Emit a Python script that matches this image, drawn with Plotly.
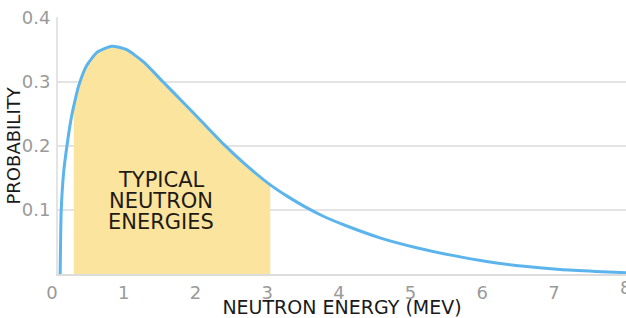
import plotly.graph_objects as go

# Neutron energy (MeV) and probability
energy = [0.03, 0.045, 0.08, 0.125, 0.18, 0.22, 0.29, 0.4, 0.55, 0.75, 0.95, 1.2, 1.46,
          1.75, 2.0, 2.33, 2.6, 2.96, 3.2, 3.44, 3.7, 4.0, 4.5, 5.0, 5.5, 6.0, 6.5,
          7.0, 7.5, 7.92]
probability = [0.0, 0.1, 0.16, 0.2, 0.24, 0.262, 0.294, 0.325, 0.346, 0.355, 0.35, 0.33,
               0.3, 0.267, 0.238, 0.2, 0.172, 0.139, 0.121, 0.105, 0.09, 0.076, 0.056,
               0.041, 0.029, 0.019, 0.012, 0.007, 0.004, 0.002]

typical_range = (0.22, 2.96)
x_ticks = [0, 1, 2, 3, 4, 5, 6, 7]
edge_tick = "8"
y_ticks = [0.1, 0.2, 0.3, 0.4]
y_tick_labels = ["0.1", "0.2", "0.3", "0.4"]
label_lines = ["TYPICAL", "NEUTRON", "ENERGIES"]
label_y = [0.147, 0.114, 0.081]

fill_x = [e for e in energy if typical_range[0] <= e <= typical_range[1]]
fill_y = [p for e, p in zip(energy, probability) if typical_range[0] <= e <= typical_range[1]]

fig = go.Figure()
fig.add_trace(go.Scatter(x=fill_x, y=fill_y, mode="lines",
                         line=dict(width=0, color="#FBE49E", shape="spline", smoothing=0.6),
                         fill="tozeroy", fillcolor="#FBE49E", hoverinfo="skip"))
fig.add_trace(go.Scatter(x=energy, y=probability, mode="lines",
                         line=dict(color="#5BB5EC", width=3, shape="spline", smoothing=0.6)))

for txt, yy in zip(label_lines, label_y):
    fig.add_annotation(x=1.44, y=yy, text=txt, showarrow=False,
                       font=dict(family="DejaVu Sans", size=21, color="#1f1a14"))

fig.add_annotation(xref="paper", yref="paper", x=0, y=0.5, xshift=-45, text="PROBABILITY",
                   textangle=-90, showarrow=False, xanchor="center", yanchor="middle",
                   font=dict(family="DejaVu Sans", size=18, color="#1a1a1a"))

# tick label for 8 MeV sits at the window's right edge, partly cut off as in the reference
fig.add_annotation(xref="paper", yref="paper", x=1, y=0, xshift=-1, yshift=-1,
                   text=edge_tick, showarrow=False, xanchor="center", yanchor="top",
                   font=dict(family="DejaVu Sans", size=18, color="#9a9a9a"))

fig.update_layout(
    width=626, height=318,
    margin=dict(l=58, r=0, t=17, b=44),
    paper_bgcolor="white", plot_bgcolor="white",
    showlegend=False,
    font=dict(family="DejaVu Sans"),
    xaxis=dict(range=[0, 7.92], tickvals=x_ticks, ticktext=[str(t) for t in x_ticks],
               showgrid=False, zeroline=False, showline=True, linecolor="#dcdcdc", linewidth=2,
               tickfont=dict(size=18, color="#9a9a9a"), ticks="", ticklabelshift=-6,
               ticklabelstandoff=1, automargin=False, ticklabeloverflow="allow",
               title=dict(text="NEUTRON ENERGY (MEV)", font=dict(size=19, color="#1a1a1a"), standoff=9)),
    yaxis=dict(range=[0, 0.4006], tickvals=y_ticks, ticktext=y_tick_labels,
               showgrid=True, gridcolor="#e4e4e4", gridwidth=2, zeroline=False,
               showline=True, linecolor="#e4e4e4", linewidth=2, automargin=False,
               tickfont=dict(size=18, color="#9a9a9a"), ticks="", ticklabelstandoff=2,
               ticklabeloverflow="allow"),
)

fig.write_html("out.html", config={"displayModeBar": False},
               post_script="document.body.style.margin='0';document.body.style.overflow='hidden';")
